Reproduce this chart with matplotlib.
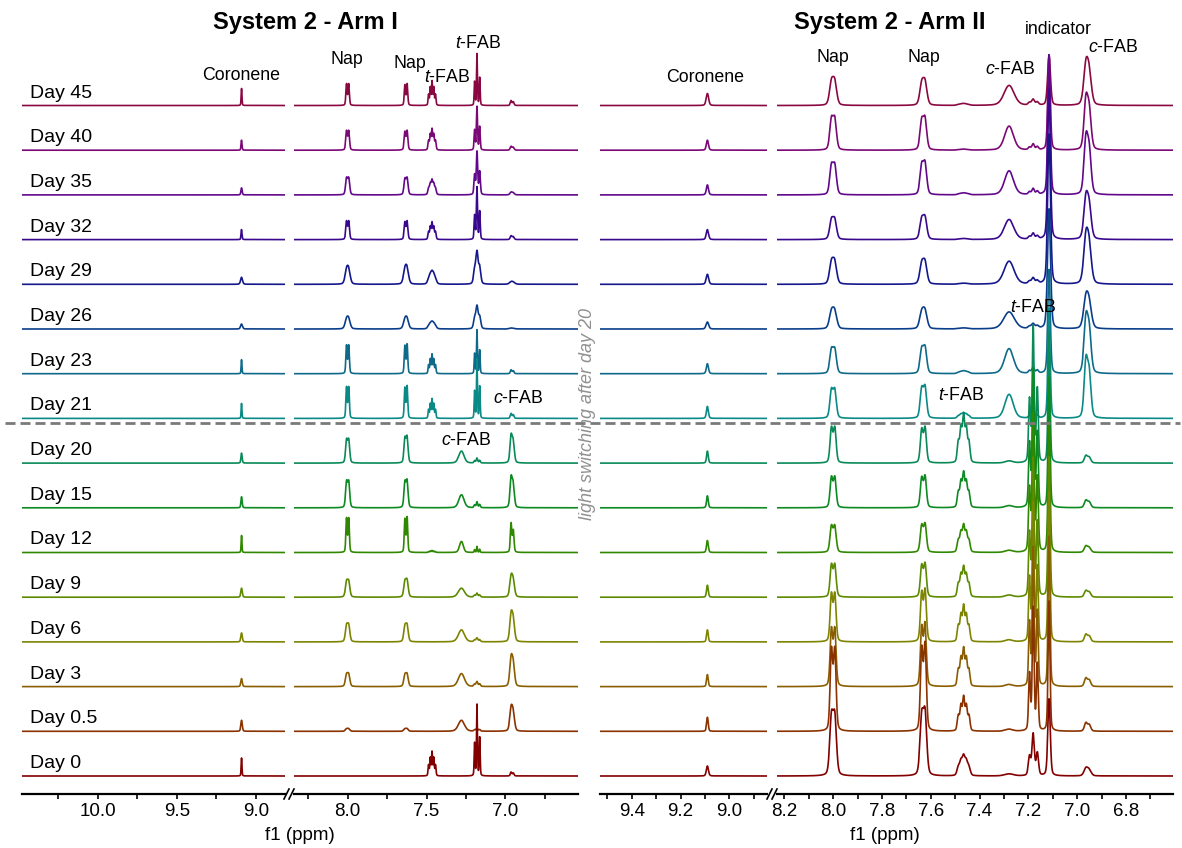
import numpy as np
import matplotlib.pyplot as plt
from matplotlib.lines import Line2D
from matplotlib.ticker import MultipleLocator, FormatStrFormatter

plt.rcParams['font.family'] = ['Liberation Sans', 'DejaVu Sans']
plt.rcParams['mathtext.fontset'] = 'custom'
plt.rcParams['mathtext.it'] = 'Liberation Sans:italic'
plt.rcParams['mathtext.rm'] = 'Liberation Sans'

W, H = 1182, 848

# rows from bottom (Day 0) to top (Day 45)
days = ['0', '0.5', '3', '6', '9', '12', '15', '20', '21', '23', '26', '29', '32', '35', '40', '45']
colors = ['#820000', '#8a3200', '#8a5e00', '#7e8400', '#5c8a00', '#2f8800', '#0e8a22', '#0a8a58',
          '#0a8a86', '#0f6a8a', '#0a3e8a', '#14188a', '#3a088c', '#62088a', '#7c0876', '#8a0842']

# Arm I peak heights (px above baseline)
a1_coronene = [18, 11, 8, 9, 9, 17, 11, 10, 15, 14, 5, 7, 10, 7, 10, 17]
a1_nap_800 = [0, 3, 14, 19, 18, 35, 28, 25, 32, 29, 13, 19, 19, 18, 20, 22]
a1_nap_763 = [0, 3, 14, 19, 19, 36, 29, 28, 33, 30, 13, 20, 19, 18, 20, 22]
a1_tfab_746 = [25, 0, 0, 0, 0, 2, 0, 0, 20, 20, 8, 14, 18, 16, 22, 25]
a1_cfab_728 = [0, 11, 13, 12, 9, 11, 13, 12, 0, 0, 0, 0, 0, 0, 0, 0]
a1_tfab_718 = [72, 3, 5, 4, 4, 6, 6, 5, 60, 44, 24, 34, 53, 44, 44, 52]
a1_cfab_696 = [4, 27, 33, 32, 24, 30, 33, 30, 5, 4, 1, 3, 4, 3, 4, 5]
a1_broad = [1.0, 1.8, 1.8, 1.8, 1.8, 1.0, 1.5, 1.5, 1.0, 1.0, 2.4, 2.4, 1.2, 1.5, 1.2, 1.0]

# Arm II peak heights (px above baseline)
a2_coronene = [10, 14, 12, 12, 12, 12, 12, 12, 12, 10, 7, 10, 10, 10, 10, 12]
a2_nap_800 = [67, 85, 60, 50, 34, 28, 32, 37, 31, 27, 22, 27, 23, 33, 35, 29]
a2_nap_763 = [70, 90, 65, 54, 35, 30, 33, 37, 34, 29, 22, 26, 25, 35, 35, 28]
a2_tfab_746 = [22, 36, 40, 38, 32, 29, 37, 50, 6, 3, 1, 1, 1, 2, 1, 2]
a2_cfab_728 = [2, 2, 2, 2, 2, 2, 2, 2, 24, 25, 17, 23, 20, 24, 24, 20]
a2_tfab_718 = [43, 125, 140, 140, 140, 140, 140, 138, 6, 6, 5, 6, 6, 6, 6, 6]
a2_indicator = [77, 130, 150, 150, 140, 130, 130, 130, 110, 104, 120, 150, 150, 140, 95, 50]
a2_cfab_695 = [9, 9, 9, 8, 7, 7, 8, 8, 64, 63, 38, 57, 49, 64, 58, 49]
a2_broad = [1.3, 1.0, 1.0, 1.0, 1.05, 1.1, 1.05, 1.05, 1.2, 1.3, 1.6, 1.5, 1.4, 1.3, 1.3, 1.5]

# peak shapes: centre, line offsets, relative amps, half width (ppm)
shape_coronene = (9.09, [0.0], [1.0], 0.003)
shape_nap_800 = (8.00, [-0.007, 0.007], [1.0, 1.0], 0.0048)
shape_nap_763 = (7.63, [-0.007, 0.007], [1.0, 0.95], 0.0048)
shape_tfab_746 = (7.465, [-0.022, -0.011, 0.0, 0.011, 0.022], [0.45, 0.75, 1.0, 0.75, 0.45], 0.0038)
shape_cfab_728 = (7.28, [-0.006, 0.005], [1.0, 0.8], 0.012)
shape_tfab_718 = (7.18, [-0.017, 0.0, 0.015], [0.54, 1.0, 0.46], 0.0034)
shape_indicator = (7.115, [0.0], [1.0], 0.0035)
shape_cfab_696 = (6.96, [-0.01, 0.004], [0.75, 1.0], 0.0055)

x = np.arange(6.5, 10.6, 0.0005)


def line(d, w):
    # pseudo-Voigt, mostly Gaussian
    return 0.3 * w**2 / (d**2 + w**2) + 0.7 * np.exp(-np.log(2) * (d / w)**2)


def band(shape, height, broad):
    c, offs, amps, w = shape
    if height <= 0:
        return np.zeros_like(x)
    w = w * broad
    s = sum(a * line(x - c - o, w) for o, a in zip(offs, amps))
    return height * s / s.max()


def spectrum(arm, i):
    if arm == 1:
        b = a1_broad[i]
        parts = [(shape_coronene, a1_coronene), (shape_nap_800, a1_nap_800), (shape_nap_763, a1_nap_763),
                 (shape_tfab_746, a1_tfab_746), (shape_cfab_728, a1_cfab_728),
                 (shape_tfab_718, a1_tfab_718), (shape_cfab_696, a1_cfab_696)]
    else:
        b = a2_broad[i] * 1.3
        parts = [(shape_coronene, a2_coronene), (shape_nap_800, a2_nap_800), (shape_nap_763, a2_nap_763),
                 (shape_tfab_746, a2_tfab_746), (shape_cfab_728, a2_cfab_728),
                 (shape_tfab_718, a2_tfab_718), (shape_indicator, a2_indicator),
                 (shape_cfab_696, a2_cfab_695)]
    y = np.zeros_like(x)
    for shp, h in parts:
        y += band(shp, h[i], b)
    return y


def fx(px):
    return px / W


def fy(py):
    return 1 - py / H


AXIS_Y = 794
ROW0 = 776
STEP = 44.7

fig = plt.figure(figsize=(W / 100, H / 100), dpi=100)

# (arm, left px, right px, ppm left, ppm right, major, minor)
panels = [
    (1, 22, 285, 10.48, 8.815, 0.5, 0.25),
    (1, 294, 578, 8.34, 6.54, 0.5, 0.25),
    (2, 600, 767, 9.53, 8.846, 0.2, 0.1),
    (2, 777, 1173, 8.23, 6.607, 0.2, 0.1),
]

specs = {1: [spectrum(1, i) for i in range(len(days))],
         2: [spectrum(2, i) for i in range(len(days))]}

for arm, x0, x1, p0, p1, major, minor in panels:
    ax = fig.add_axes([fx(x0), fy(AXIS_Y), (x1 - x0) / W, AXIS_Y / H])
    ax.set_xlim(p0, p1)
    ax.set_ylim(0, AXIS_Y)
    for i in range(len(days)):
        base = AXIS_Y - (ROW0 - STEP * i)
        ax.plot(x, base + specs[arm][i], color=colors[i], lw=1.2, zorder=100 - i)
    for s in ['top', 'left', 'right']:
        ax.spines[s].set_visible(False)
    ax.spines['bottom'].set_linewidth(1.6)
    ax.set_yticks([])
    ax.xaxis.set_major_locator(MultipleLocator(major))
    ax.xaxis.set_minor_locator(MultipleLocator(minor))
    ax.xaxis.set_major_formatter(FormatStrFormatter('%.1f'))
    ax.tick_params(axis='x', which='both', direction='out', length=3.5, width=1.2, labelsize=13.5, pad=3)
    ax.patch.set_alpha(0)

# day labels
for i, d in enumerate(days):
    fig.text(fx(30), fy(ROW0 - STEP * i - 8), 'Day ' + d, fontsize=14, va='baseline', ha='left')

# axis break marks
for bx in [284, 767]:
    for dx in [0, 5]:
        fig.add_artist(Line2D([fx(bx + dx), fx(bx + dx + 5)], [fy(799), fy(789)], color='black', lw=1.2))

# titles and axis labels
fig.text(fx(305), fy(22), 'System 2 - Arm I', fontsize=17, fontweight='bold', ha='center', va='center')
fig.text(fx(890), fy(22), 'System 2 - Arm II', fontsize=17, fontweight='bold', ha='center', va='center')
fig.text(fx(300), fy(836), 'f1 (ppm)', fontsize=13.5, ha='center', va='center')
fig.text(fx(885), fy(836), 'f1 (ppm)', fontsize=13.5, ha='center', va='center')

# peak annotations
notes = [
    (241, 75, 'Coronene'), (347, 60, 'Nap'), (410, 63, 'Nap'), (447, 77, r'$t$-FAB'),
    (478, 44, r'$t$-FAB'), (518, 399, r'$c$-FAB'), (466, 441, r'$c$-FAB'),
    (705, 77, 'Coronene'), (833, 58, 'Nap'), (924, 58, 'Nap'), (1010, 69, r'$c$-FAB'),
    (1058, 30, 'indicator'), (1113, 48, r'$c$-FAB'), (1033, 307, r'$t$-FAB'), (961, 395, r'$t$-FAB'),
]
for nx, ny, t in notes:
    fig.text(fx(nx), fy(ny), t, fontsize=12.8, ha='center', va='center', zorder=200)

# light switching divider
fig.add_artist(Line2D([fx(5), fx(1180)], [fy(423), fy(423)], color='#7a7a7a', lw=2,
                      dashes=(3.6, 1.8), zorder=150))
fig.text(fx(588), fy(414), 'light switching after day 20', rotation=90, style='italic',
         color='#909090', fontsize=13, ha='center', va='center')

fig.savefig('out.png', dpi=100)
